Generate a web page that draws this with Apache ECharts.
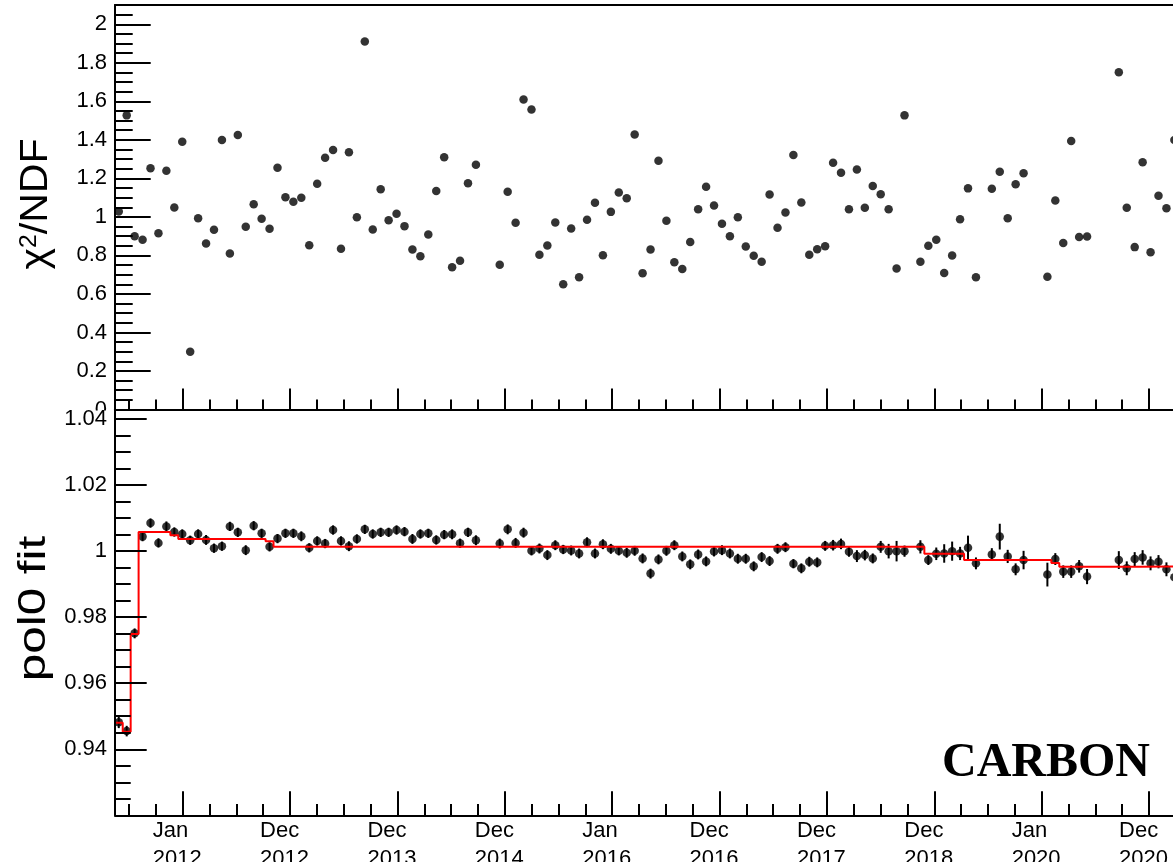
<!DOCTYPE html>
<html>
<head>
<meta charset="utf-8">
<script src="https://cdn.jsdelivr.net/npm/echarts@6/dist/echarts.min.js"></script>
<style>
  html, body { margin: 0; padding: 0; background: #fff; }
  #chart { width: 1173px; height: 862px; }
</style>
</head>
<body>
<div id="chart"></div>
<script>
// Bartels rotations (27-day bins) that carry a measurement
const rotations = [
  2426, 2427, 2428, 2429, 2430, 2431, 2432, 2433, 2434, 2435,
  2436, 2437, 2438, 2439, 2440, 2441, 2442, 2443, 2444, 2445,
  2446, 2447, 2448, 2449, 2450, 2451, 2452, 2453, 2454, 2455,
  2456, 2457, 2458, 2459, 2460, 2461, 2462, 2463, 2464, 2465,
  2466, 2467, 2468, 2469, 2470, 2471,
  2474, 2475, 2476, 2477, 2478, 2479, 2480, 2481, 2482, 2483,
  2484, 2485, 2486, 2487, 2488, 2489, 2490, 2491, 2492, 2493,
  2494, 2495, 2496, 2497, 2498, 2499, 2500, 2501, 2502, 2503,
  2504, 2505, 2506, 2507, 2508, 2509, 2510, 2511, 2512, 2513,
  2514, 2515, 2516, 2517, 2518, 2519, 2520, 2521, 2522, 2523,
  2524, 2525,
  2527, 2528, 2529, 2530, 2531, 2532, 2533, 2534,
  2536, 2537, 2538, 2539, 2540,
  2543, 2544, 2545, 2546, 2547, 2548,
  2552, 2553, 2554, 2555, 2556, 2557, 2558, 2559
];

// chi2/NDF of the fit in each rotation
const chi2ndf = [
  1.028, 1.527, 0.900, 0.881, 1.253, 0.915, 1.240, 1.049, 1.390, 0.300,
  0.993, 0.862, 0.933, 1.399, 0.810, 1.425, 0.949, 1.066, 0.990, 0.938,
  1.255, 1.102, 1.078, 1.099, 0.853, 1.172, 1.307, 1.347, 0.834, 1.336,
  0.998, 1.910, 0.934, 1.144, 0.983, 1.016, 0.952, 0.831, 0.796, 0.909,
  1.134, 1.309, 0.739, 0.772, 1.174, 1.271,
  0.751, 1.131, 0.969, 1.609, 1.558, 0.803, 0.851, 0.971, 0.650, 0.940,
  0.687, 0.985, 1.073, 0.801, 1.026, 1.127, 1.097, 1.428, 0.708, 0.831,
  1.292, 0.980, 0.765, 0.730, 0.869, 1.039, 1.156, 1.059, 0.964, 0.900,
  0.998, 0.846, 0.798, 0.767, 1.116, 0.943, 1.023, 1.321, 1.075, 0.803,
  0.832, 0.848, 1.281, 1.229, 1.040, 1.246, 1.047, 1.160, 1.118, 1.040,
  0.732, 1.527,
  0.767, 0.850, 0.881, 0.709, 0.799, 0.988, 1.148, 0.687,
  1.146, 1.234, 0.993, 1.170, 1.226,
  0.689, 1.085, 0.865, 1.394, 0.895, 0.898,
  1.751, 1.047, 0.843, 1.283, 0.817, 1.110, 1.045, 1.399
];

// pol0 fit constant and its uncertainty in each rotation
const pol0 = [
  0.9482, 0.9455, 0.9751, 1.0044, 1.0085, 1.0025, 1.0075, 1.0058, 1.0052, 1.0033,
  1.0052, 1.0034, 1.0009, 1.0015, 1.0075, 1.0057, 1.0003, 1.0077, 1.0054, 1.0013,
  1.0038, 1.0054, 1.0054, 1.0045, 1.0010, 1.0031, 1.0023, 1.0064, 1.0031, 1.0015,
  1.0037, 1.0066, 1.0052, 1.0057, 1.0057, 1.0064, 1.0059, 1.0037, 1.0052, 1.0054,
  1.0034, 1.0050, 1.0051, 1.0024, 1.0057, 1.0033,
  1.0023, 1.0066, 1.0025, 1.0056, 1.0001, 1.0008, 0.9988, 1.0018, 1.0005, 1.0002,
  0.9993, 1.0027, 0.9993, 1.0021, 1.0007, 1.0001, 0.9995, 1.0001, 0.9978, 0.9932,
  0.9975, 1.0001, 1.0018, 0.9984, 0.9960, 0.9990, 0.9969, 0.9999, 1.0003, 0.9993,
  0.9977, 0.9977, 0.9954, 0.9982, 0.9970, 1.0007, 1.0012, 0.9962, 0.9948, 0.9968,
  0.9966, 1.0016, 1.0018, 1.0022, 0.9998, 0.9985, 0.9988, 0.9978, 1.0013, 1.0000,
  1.0000, 1.0000,
  1.0013, 0.9973, 0.9992, 0.9993, 1.0000, 0.9993, 1.0010, 0.9963,
  0.9990, 1.0044, 0.9984, 0.9945, 0.9973,
  0.9929, 0.9976, 0.9938, 0.9938, 0.9954, 0.9923,
  0.9973, 0.9948, 0.9976, 0.9981, 0.9963, 0.9968, 0.9945, 0.9921
];

const pol0Err = [
  0.0018, 0.0016, 0.0015, 0.0014, 0.0014, 0.0014, 0.0015, 0.0014, 0.0014, 0.0014,
  0.0014, 0.0015, 0.0014, 0.0014, 0.0014, 0.0014, 0.0015, 0.0014, 0.0014, 0.0014,
  0.0014, 0.0014, 0.0014, 0.0015, 0.0014, 0.0014, 0.0014, 0.0014, 0.0014, 0.0015,
  0.0014, 0.0014, 0.0014, 0.0014, 0.0014, 0.0014, 0.0014, 0.0015, 0.0014, 0.0014,
  0.0014, 0.0014, 0.0015, 0.0014, 0.0014, 0.0015,
  0.0015, 0.0015, 0.0015, 0.0015, 0.0014, 0.0015, 0.0015, 0.0015, 0.0014, 0.0015,
  0.0015, 0.0015, 0.0015, 0.0015, 0.0015, 0.0014, 0.0015, 0.0015, 0.0015, 0.0015,
  0.0015, 0.0015, 0.0015, 0.0015, 0.0015, 0.0015, 0.0015, 0.0015, 0.0015, 0.0015,
  0.0015, 0.0015, 0.0015, 0.0015, 0.0015, 0.0015, 0.0015, 0.0014, 0.0015, 0.0015,
  0.0015, 0.0015, 0.0016, 0.0016, 0.0015, 0.0018, 0.0016, 0.0015, 0.0018, 0.0022,
  0.0031, 0.0017,
  0.0020, 0.0015, 0.0019, 0.0028, 0.0029, 0.0020, 0.0037, 0.0018,
  0.0019, 0.0039, 0.0020, 0.0018, 0.0028,
  0.0036, 0.0018, 0.0019, 0.0019, 0.0019, 0.0023,
  0.0027, 0.0021, 0.0021, 0.0022, 0.0021, 0.0020, 0.0021, 0.0021
];

// Piecewise-constant fit result: first rotation, last rotation, value
const fitFirst = [2426, 2427, 2428, 2429, 2433, 2434, 2445, 2446, 2528, 2533, 2544, 2545, 2555];
const fitLast  = [2426, 2427, 2428, 2432, 2433, 2444, 2445, 2527, 2532, 2543, 2544, 2554, 2566];
const fitValue = [0.9480, 0.9453, 0.9749, 1.0058, 1.0048, 1.0037, 1.0030, 1.0013, 0.9992, 0.9973, 0.9964, 0.9953, 0.9954];

// Axis ticks
const xMajorYears = [2012, 2013, 2014, 2015, 2016, 2017, 2018, 2019, 2020, 2021];
const chiTicks = [0, 0.2, 0.4, 0.6, 0.8, 1, 1.2, 1.4, 1.6, 1.8, 2];
const pol0Ticks = [0.94, 0.96, 0.98, 1, 1.02, 1.04];
const monthNames = ['Jan', 'Feb', 'Mar', 'Apr', 'May', 'Jun', 'Jul', 'Aug', 'Sep', 'Oct', 'Nov', 'Dec'];

// Time handling: the x axis runs in units of 365.25 days counted from 1 Jan 2012
const DAY = 86400000;
const YEAR = 365.25 * DAY;
const T0 = Date.UTC(2012, 0, 1);
const BR_START = Date.UTC(2011, 4, 15); // first day of rotation 2426
const rotStart = br => BR_START + (br - 2426) * 27 * DAY;
const toAxis = ms => 2012 + (ms - T0) / YEAR;
const rotMid = br => toAxis(rotStart(br) + 13.5 * DAY);

const X_MIN = 2011.3695;
const X_MAX = 2022.1733;

function steps(a, b, s) {
  const out = [];
  for (let i = 0; a + i * s <= b + 1e-9; i++) out.push(+(a + i * s).toFixed(4));
  return out;
}
const xMinor = steps(2011.5, 2022, 0.25);
const chiMinor = steps(0.05, 2.05, 0.05);
const pol0Minor = steps(0.925, 1.04, 0.005);

const FONT = 'Liberation Sans';
const LABEL_SIZE = 22;
const BLACK = '#000';

function dateLabel(v) {
  const d = new Date(T0 + (v - 2012) * YEAR + 60000);
  return '{t|' + monthNames[d.getUTCMonth()] + '}\n{t|' + d.getUTCFullYear() + '}';
}
const numLabel = v => String(parseFloat(Number(v).toFixed(3)));

function xAxis(grid, extra) {
  return Object.assign({
    type: 'value', gridIndex: grid, min: X_MIN, max: X_MAX, position: 'bottom',
    axisLine: { show: false, onZero: false },
    axisTick: { show: false },
    axisLabel: { show: false },
    splitLine: { show: false }
  }, extra);
}
function yAxis(grid, min, max, extra) {
  return Object.assign({
    type: 'value', gridIndex: grid, min: min, max: max, position: 'left',
    axisLine: { show: false, onZero: false },
    axisTick: { show: false },
    axisLabel: { show: false },
    splitLine: { show: false }
  }, extra);
}
const line2 = { show: true, onZero: false, lineStyle: { color: BLACK, width: 2 } };
const tick = (len, values) => ({ show: true, inside: true, length: len, customValues: values, lineStyle: { color: BLACK, width: 2 } });

// Step outline of the fit constants
const fitLine = fitFirst.map((br, i) => [toAxis(rotStart(br)), fitValue[i]]);
fitLine.push([toAxis(rotStart(fitLast[fitLast.length - 1] + 1)), fitValue[fitValue.length - 1]]);

const chart = echarts.init(document.getElementById('chart'), null, { renderer: 'canvas' });
chart.setOption({
  animation: false,
  backgroundColor: '#fff',
  grid: [
    { left: 115, top: 5, width: 1160, height: 404.5, outerBoundsMode: 'none', containLabel: false },
    { left: 115, top: 409.5, width: 1160, height: 405.8, outerBoundsMode: 'none', containLabel: false }
  ],
  xAxis: [
    xAxis(0, { axisLine: line2, axisTick: tick(21, xMajorYears) }),
    xAxis(0, { axisTick: tick(10, xMinor) }),
    xAxis(0, { position: 'top', axisLine: line2 }),
    xAxis(1, {
      z: 10,
      axisLine: line2, axisTick: tick(24, xMajorYears),
      axisLabel: {
        show: true, customValues: xMajorYears, margin: 2, formatter: dateLabel,
        rich: { t: { width: 60, align: 'left', fontSize: LABEL_SIZE, lineHeight: 28, fontFamily: FONT, color: BLACK } }
      }
    }),
    xAxis(1, { axisTick: tick(11.3, xMinor) })
  ],
  yAxis: [
    yAxis(0, 0, 2.1, {
      axisLine: line2, axisTick: tick(35.7, chiTicks),
      axisLabel: { show: true, customValues: chiTicks, margin: 8, formatter: numLabel, fontSize: LABEL_SIZE, fontFamily: FONT, color: BLACK }
    }),
    yAxis(0, 0, 2.1, { axisTick: tick(17.7, chiMinor) }),
    yAxis(1, 0.92, 1.0429, {
      z: 10,
      axisLine: line2, axisTick: tick(31.7, pol0Ticks),
      axisLabel: { show: true, customValues: pol0Ticks, margin: 8, formatter: numLabel, fontSize: LABEL_SIZE, fontFamily: FONT, color: BLACK }
    }),
    yAxis(1, 0.92, 1.0429, { z: 10, axisTick: tick(15.7, pol0Minor) })
  ],
  graphic: [
    // the lower pad covers the overflow of the upper pad's bottom label
    { type: 'rect', z: 5, shape: { x: 30, y: 410.5, width: 82, height: 9 }, style: { fill: '#fff' } },
    {
      type: 'text', z: 6, x: 37, y: 204, rotation: Math.PI / 2, scaleX: 1.08,
      style: {
        text: '{a|χ}{s|2}{a|/NDF}', align: 'center', verticalAlign: 'middle',
        rich: {
          a: { fontSize: 38, fontFamily: FONT, fill: BLACK },
          s: { fontSize: 23, fontFamily: FONT, fill: BLACK, verticalAlign: 'top' }
        }
      }
    },
    {
      type: 'text', z: 6, x: 35, y: 608.5, rotation: Math.PI / 2, scaleX: 1.3,
      style: { text: 'pol0 fit', fontSize: 38, fontFamily: FONT, fill: BLACK, align: 'center', verticalAlign: 'middle' }
    },
    {
      type: 'text', z: 6, x: 1150, y: 764,
      style: { text: 'CARBON', fontSize: 48, fontWeight: 'bold', fontFamily: 'Liberation Serif', fill: BLACK, align: 'right', verticalAlign: 'middle' }
    }
  ],
  series: [
    {
      name: 'chi2/NDF', type: 'scatter', xAxisIndex: 0, yAxisIndex: 0,
      symbol: 'circle', symbolSize: 8.5, itemStyle: { color: BLACK },
      data: rotations.map((br, i) => [rotMid(br), chi2ndf[i]])
    },
    {
      name: 'pol0 error', type: 'custom', xAxisIndex: 3, yAxisIndex: 2, z: 3,
      encode: { x: 0, y: [1, 2] },
      renderItem: function (params, api) {
        const p1 = api.coord([api.value(0), api.value(1)]);
        const p2 = api.coord([api.value(0), api.value(2)]);
        return { type: 'line', shape: { x1: p1[0], y1: p1[1], x2: p2[0], y2: p2[1] }, style: { stroke: BLACK, lineWidth: 2 } };
      },
      data: rotations.map((br, i) => [rotMid(br), pol0[i] - pol0Err[i], pol0[i] + pol0Err[i]])
    },
    {
      name: 'pol0', type: 'scatter', xAxisIndex: 3, yAxisIndex: 2, z: 4,
      symbol: 'circle', symbolSize: 8.5, itemStyle: { color: BLACK },
      data: rotations.map((br, i) => [rotMid(br), pol0[i]])
    },
    {
      name: 'fit', type: 'line', xAxisIndex: 3, yAxisIndex: 2, z: 5,
      step: 'end', symbol: 'none', clip: true,
      lineStyle: { color: '#ff0000', width: 2 },
      data: fitLine
    }
  ]
});
</script>
</body>
</html>
